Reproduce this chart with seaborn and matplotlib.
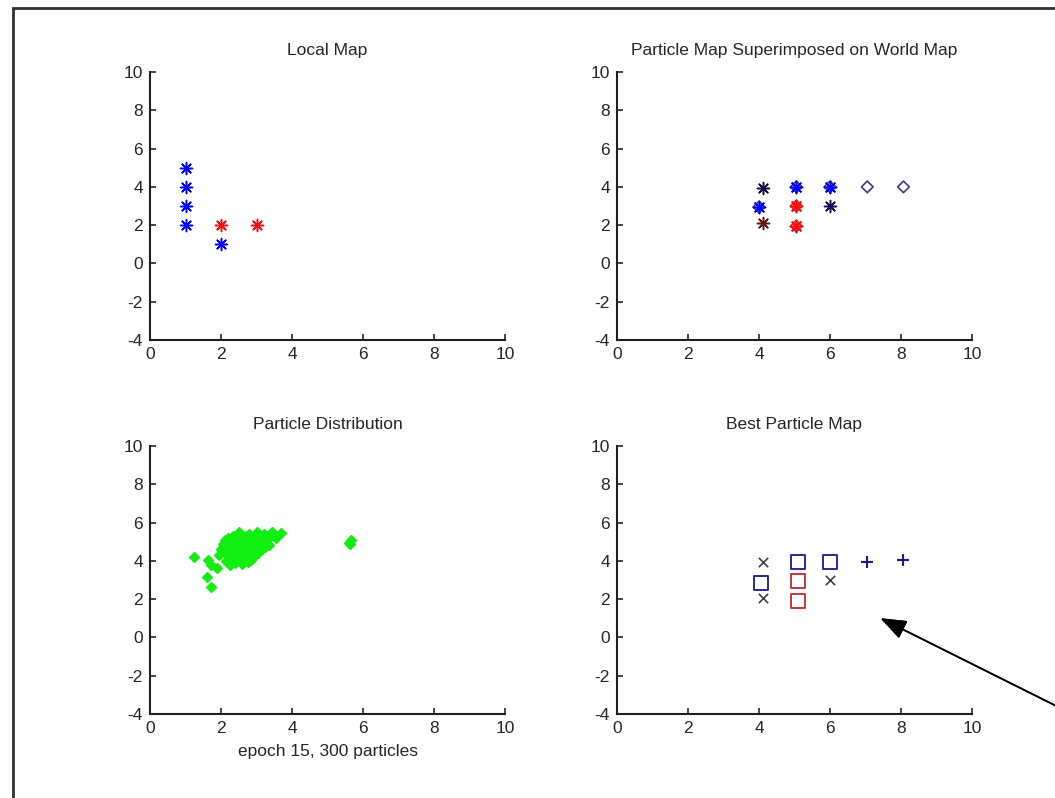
import matplotlib
matplotlib.use("Agg")
import matplotlib.pyplot as plt
import seaborn as sns
import pandas as pd
from matplotlib.patches import Rectangle

# Local map points
local_blue_x = [1, 1, 1, 1, 2]
local_blue_y = [2, 3, 4, 5, 1]
local_red_x = [2, 3]
local_red_y = [2, 2]

# World map (diamonds)
world_blue_x = [4.0, 5.05, 6.0, 7.05, 8.07]
world_blue_y = [2.95, 4.0, 4.0, 4.0, 4.0]
world_red_x = [5.05, 5.05]
world_red_y = [3.0, 1.95]

# Particle map (stars) superimposed
pm_blue_x = [4.0, 5.05, 6.0]
pm_blue_y = [2.95, 4.0, 4.0]
pm_red_x = [5.05, 5.05]
pm_red_y = [3.0, 1.95]
pm_navy_x = [4.1, 6.0]
pm_navy_y = [3.95, 3.0]
pm_darkred_x = [4.1]
pm_darkred_y = [2.1]

# Particle distribution (epoch 15)
part_x = [1.25, 1.62, 1.72, 1.88, 1.6, 1.72, 1.95, 2.0, 2.05, 2.1, 2.1, 2.15,
          2.2, 2.2, 2.25, 2.3, 2.3, 2.35, 2.35, 2.4, 2.4, 2.45, 2.45, 2.5,
          2.5, 2.5, 2.55, 2.55, 2.6, 2.6, 2.6, 2.65, 2.65, 2.7, 2.7, 2.7,
          2.75, 2.75, 2.8, 2.8, 2.8, 2.85, 2.9, 2.9, 2.95, 2.95, 3.0, 3.0,
          3.0, 3.05, 3.1, 3.1, 3.15, 3.2, 3.2, 3.25, 3.3, 3.3, 3.4, 3.45,
          3.5, 3.55, 3.7, 3.35, 2.15, 2.25, 2.4, 2.55, 2.3, 2.6, 2.85, 2.75,
          2.5, 2.65, 2.9, 3.05, 2.2, 2.35, 2.45, 2.7, 2.25, 5.6, 5.65, 5.62]
part_y = [4.2, 4.05, 3.8, 3.63, 3.17, 2.64, 4.3, 4.6, 4.9, 5.1, 4.4, 4.0,
          4.7, 5.2, 4.5, 4.1, 4.9, 4.3, 5.3, 4.6, 3.9, 5.0, 4.2, 4.8,
          4.4, 5.5, 4.0, 4.6, 5.1, 4.3, 3.85, 4.8, 4.5, 5.3, 4.1, 4.7,
          5.0, 4.4, 4.6, 4.2, 5.4, 4.9, 4.5, 5.2, 4.3, 4.8, 5.0, 4.6,
          5.5, 4.4, 4.8, 5.2, 4.6, 5.0, 5.4, 4.7, 5.2, 4.9, 5.3, 5.5,
          5.4, 5.2, 5.45, 4.85, 4.85, 4.25, 5.15, 5.3, 4.65, 4.95, 4.05, 3.95,
          4.1, 4.25, 4.95, 5.25, 4.35, 4.75, 4.45, 4.55, 3.8, 4.95, 5.1, 4.88]

# Best particle map
best_x_x = [4.1, 4.1, 6.0]
best_x_y = [3.95, 2.05, 3.0]
best_bsq_x = [4.05, 5.1, 6.0]
best_bsq_y = [2.85, 3.95, 3.95]
best_rsq_x = [5.1, 5.1]
best_rsq_y = [2.95, 1.9]
best_plus_x = [7.05, 8.07]
best_plus_y = [3.95, 4.05]

titles = ["Local Map", "Particle Map Superimposed on World Map",
          "Particle Distribution", "Best Particle Map"]

sns.set_style("white")
plt.rcParams['font.family'] = ['Liberation Sans', 'DejaVu Sans']
plt.rcParams['axes.unicode_minus'] = False

fig = plt.figure(figsize=(10.55, 7.98), dpi=100)

W, H = 1055, 798
boxes = [(150, 72), (617, 72), (150, 446), (617, 446)]
axes = []
for (px, py) in boxes:
    ax = fig.add_axes([px / W, 1 - (py + 268) / H, 355 / W, 268 / H])
    axes.append(ax)

STAR = (8, 2, 0)


def pts(ax, x, y, marker, color, s, lw=1.0, hollow=False):
    df = pd.DataFrame({"x": x, "y": y})
    if hollow:
        sns.scatterplot(data=df, x="x", y="y", ax=ax, marker=marker, s=s,
                        facecolors="none", edgecolor=color, linewidth=lw)
    else:
        sns.scatterplot(data=df, x="x", y="y", ax=ax, marker=marker, s=s,
                        color=color, edgecolor=color, linewidth=lw)


ax1, ax2, ax3, ax4 = axes
pts(ax1, local_blue_x, local_blue_y, STAR, "#0000ff", 75, 1.1)
pts(ax1, local_red_x, local_red_y, STAR, "#ee1010", 75, 1.1)

pts(ax2, world_blue_x, world_blue_y, "D", "#3a3a8a", 35, 1.2, hollow=True)
pts(ax2, world_red_x, world_red_y, "D", "#e02020", 35, 1.2, hollow=True)
pts(ax2, pm_blue_x, pm_blue_y, STAR, "#0000ff", 75, 1.2)
pts(ax2, pm_red_x, pm_red_y, STAR, "#f01010", 75, 1.2)
pts(ax2, pm_navy_x, pm_navy_y, STAR, "#101050", 75, 1.1)
pts(ax2, pm_darkred_x, pm_darkred_y, STAR, "#601818", 75, 1.1)

pts(ax3, part_x, part_y, "D", "#10ee10", 25, 1.0)

pts(ax4, best_x_x, best_x_y, "x", "#404040", 45, 1.2)
pts(ax4, best_bsq_x, best_bsq_y, "s", "#2a2a9a", 100, 1.4, hollow=True)
pts(ax4, best_rsq_x, best_rsq_y, "s", "#c03a3a", 100, 1.4, hollow=True)
pts(ax4, best_plus_x, best_plus_y, "+", "#1a1a8a", 80, 1.5)

for ax, t in zip(axes, titles):
    ax.set_xlim(0, 10)
    ax.set_ylim(-4, 10)
    ax.set_xticks(range(0, 11, 2))
    ax.set_yticks(range(-4, 11, 2))
    ax.set_xlabel("")
    ax.set_ylabel("")
    ax.set_title(t, fontsize=12.5, pad=12)
    for side in ["top", "right"]:
        ax.spines[side].set_visible(False)
    for side in ["left", "bottom"]:
        ax.spines[side].set_color("#202020")
        ax.spines[side].set_linewidth(1.5)
    ax.tick_params(direction="in", length=4, width=1.2, labelsize=12.5,
                   left=True, bottom=True, pad=5)
    ax.patch.set_alpha(0)

ax3.set_xlabel("epoch 15, 300 particles", fontsize=12.5, labelpad=6)

# frame around the figure
fig.patches.append(Rectangle((13 / W, -0.1), 1.2, 1.1 - 8 / H, transform=fig.transFigure,
                             fill=False, edgecolor="#303030", linewidth=2))

# arrow pointing to the best particle map
fig.add_artist(plt.annotate("", xy=(878 / W, 1 - 617 / H), xycoords="figure fraction",
                            xytext=(1.005, 1 - 708 / H), textcoords="figure fraction",
                            arrowprops=dict(arrowstyle="-|>,head_length=1.6,head_width=0.6",
                                            color="black", lw=1.2)))

plt.savefig("out.png", dpi=100)
